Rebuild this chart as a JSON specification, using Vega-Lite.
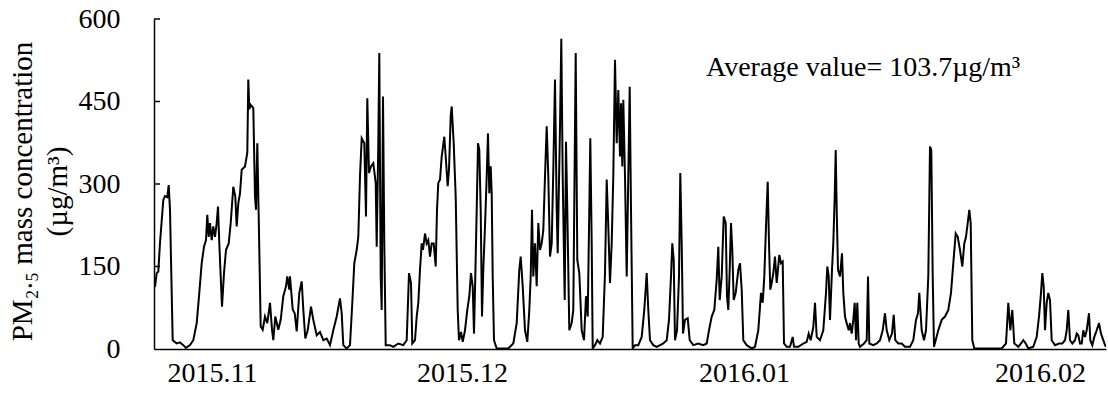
{
  "$schema": "https://vega.github.io/schema/vega-lite/v6.json",
  "width": 952,
  "height": 330,
  "autosize": "none",
  "padding": {"left": 154, "top": 19, "right": 2, "bottom": 45},
  "background": "white",
  "config": {"view": {"stroke": null}, "font": "Liberation Serif"},
  "layer": [
    {
      "data": {"values": [
        {"t":1.0,"v":113},{"t":2.7,"v":138},{"t":4.3,"v":141},{"t":6.0,"v":193},{"t":9.3,"v":271},{"t":11.0,"v":278},{"t":13.3,"v":276},{"t":14.7,"v":298},{"t":16.0,"v":253},{"t":17.7,"v":102},{"t":18.7,"v":16},{"t":22.7,"v":10},{"t":26.0,"v":12},{"t":29.3,"v":7},{"t":32.0,"v":2},{"t":36.0,"v":7},{"t":39.3,"v":16},{"t":42.7,"v":47},{"t":45.3,"v":102},{"t":47.7,"v":156},{"t":50.0,"v":186},{"t":52.0,"v":198},{"t":53.3,"v":244},{"t":54.7,"v":204},{"t":56.0,"v":229},{"t":57.7,"v":198},{"t":59.3,"v":223},{"t":61.0,"v":204},{"t":62.7,"v":229},{"t":64.0,"v":259},{"t":65.3,"v":192},{"t":66.7,"v":132},{"t":68.0,"v":77},{"t":70.0,"v":138},{"t":72.0,"v":180},{"t":74.7,"v":192},{"t":76.7,"v":229},{"t":79.3,"v":295},{"t":81.3,"v":277},{"t":82.7,"v":223},{"t":84.3,"v":265},{"t":86.0,"v":283},{"t":87.7,"v":326},{"t":91.0,"v":332},{"t":93.3,"v":357},{"t":94.3,"v":490},{"t":95.3,"v":436},{"t":96.7,"v":444},{"t":99.3,"v":438},{"t":101.0,"v":277},{"t":102.0,"v":253},{"t":103.3,"v":374},{"t":104.7,"v":241},{"t":106.7,"v":41},{"t":108.7,"v":35},{"t":111.0,"v":59},{"t":113.3,"v":47},{"t":116.0,"v":84},{"t":118.0,"v":35},{"t":119.3,"v":16},{"t":121.3,"v":59},{"t":124.3,"v":35},{"t":126.7,"v":53},{"t":129.3,"v":96},{"t":132.0,"v":114},{"t":133.3,"v":132},{"t":135.3,"v":108},{"t":136.0,"v":132},{"t":138.7,"v":72},{"t":140.7,"v":65},{"t":142.7,"v":32},{"t":145.3,"v":102},{"t":147.7,"v":123},{"t":149.3,"v":72},{"t":151.3,"v":19},
        {"t":153.7,"v":34},{"t":157.0,"v":77},{"t":159.3,"v":53},{"t":162.7,"v":25},{"t":166.0,"v":31},{"t":169.3,"v":16},{"t":172.7,"v":19},{"t":176.0,"v":7},{"t":179.3,"v":34},{"t":182.7,"v":59},{"t":186.0,"v":92},{"t":187.7,"v":65},{"t":189.3,"v":7},{"t":192.7,"v":1},{"t":196.0,"v":7},{"t":198.3,"v":84},{"t":200.3,"v":156},{"t":202.7,"v":180},{"t":204.3,"v":204},{"t":206.0,"v":314},{"t":207.7,"v":383},{"t":210.3,"v":374},{"t":212.0,"v":241},{"t":213.3,"v":456},{"t":215.0,"v":320},{"t":217.0,"v":332},{"t":219.3,"v":338},{"t":221.7,"v":302},{"t":222.7,"v":186},{"t":224.3,"v":374},{"t":225.3,"v":538},{"t":226.7,"v":132},{"t":227.7,"v":71},{"t":229.0,"v":459},{"t":230.3,"v":192},{"t":231.7,"v":7},{"t":236.0,"v":7},{"t":239.3,"v":4},{"t":244.3,"v":10},{"t":249.3,"v":7},{"t":252.7,"v":16},{"t":255.0,"v":138},{"t":257.0,"v":120},{"t":258.3,"v":10},{"t":261.0,"v":16},{"t":262.7,"v":59},{"t":264.3,"v":84},{"t":266.0,"v":144},{"t":267.7,"v":192},{"t":269.0,"v":180},{"t":271.0,"v":210},{"t":272.7,"v":192},{"t":274.3,"v":198},{"t":276.0,"v":168},{"t":277.7,"v":192},{"t":279.7,"v":192},{"t":281.7,"v":150},{"t":283.0,"v":253},{"t":284.3,"v":302},{"t":286.0,"v":308},{"t":287.7,"v":350},{"t":290.3,"v":386},{"t":291.7,"v":350},{"t":293.7,"v":296},{"t":295.0,"v":326},{"t":296.7,"v":423},{"t":297.7,"v":441},{"t":299.7,"v":374},{"t":301.7,"v":277},{"t":303.7,"v":71},{"t":305.0,"v":16},{"t":307.0,"v":31},
        {"t":308.7,"v":13},{"t":311.0,"v":34},{"t":313.3,"v":71},{"t":315.3,"v":96},{"t":317.0,"v":138},{"t":318.7,"v":114},{"t":320.0,"v":28},{"t":321.3,"v":132},{"t":322.7,"v":253},{"t":324.0,"v":374},{"t":325.3,"v":362},{"t":326.7,"v":253},{"t":328.0,"v":59},{"t":329.3,"v":144},{"t":331.0,"v":223},{"t":332.7,"v":314},{"t":334.0,"v":392},{"t":335.3,"v":283},{"t":336.7,"v":332},{"t":337.7,"v":283},{"t":338.7,"v":132},{"t":340.0,"v":16},{"t":342.7,"v":1},{"t":347.7,"v":1},{"t":354.3,"v":1},{"t":359.3,"v":10},{"t":362.7,"v":47},{"t":365.3,"v":144},{"t":366.7,"v":168},{"t":368.7,"v":114},{"t":371.0,"v":34},{"t":373.3,"v":13},{"t":375.3,"v":71},{"t":376.7,"v":132},{"t":378.0,"v":253},{"t":379.3,"v":132},{"t":381.0,"v":192},{"t":382.7,"v":114},{"t":384.3,"v":229},{"t":386.0,"v":180},{"t":387.7,"v":192},{"t":389.3,"v":216},{"t":391.0,"v":314},{"t":392.7,"v":405},{"t":394.3,"v":314},{"t":396.0,"v":168},{"t":397.7,"v":192},{"t":399.3,"v":326},{"t":401.0,"v":490},{"t":402.7,"v":253},{"t":403.7,"v":174},{"t":406.0,"v":405},{"t":407.3,"v":564},{"t":408.7,"v":314},{"t":410.7,"v":89},{"t":412.0,"v":377},{"t":413.3,"v":253},{"t":415.3,"v":34},{"t":417.7,"v":47},{"t":419.3,"v":71},{"t":421.7,"v":538},{"t":423.3,"v":162},{"t":425.3,"v":138},{"t":427.7,"v":34},{"t":430.0,"v":16},{"t":432.0,"v":96},{"t":433.7,"v":59},{"t":435.3,"v":253},{"t":436.3,"v":383},{"t":437.7,"v":192},{"t":438.7,"v":1},{"t":441.0,"v":7},{"t":443.3,"v":16},{"t":446.0,"v":10},{"t":448.7,"v":22},{"t":451.0,"v":138},{"t":452.7,"v":308},{"t":454.3,"v":223},{"t":456.0,"v":120},{"t":457.7,"v":192},{"t":459.3,"v":314},{"t":461.0,"v":526},
        {"t":462.7,"v":374},{"t":464.3,"v":471},{"t":466.0,"v":350},{"t":467.0,"v":447},{"t":468.3,"v":332},{"t":469.3,"v":453},{"t":471.0,"v":314},{"t":472.7,"v":132},{"t":474.3,"v":314},{"t":475.7,"v":477},{"t":477.0,"v":253},{"t":478.7,"v":1},{"t":481.0,"v":7},{"t":484.3,"v":7},{"t":487.7,"v":22},{"t":490.3,"v":71},{"t":492.7,"v":138},{"t":494.3,"v":71},{"t":496.0,"v":16},{"t":499.3,"v":7},{"t":502.7,"v":4},{"t":506.0,"v":7},{"t":509.3,"v":10},{"t":512.7,"v":16},{"t":515.0,"v":53},{"t":517.0,"v":132},{"t":518.3,"v":192},{"t":519.7,"v":162},{"t":521.0,"v":16},{"t":523.0,"v":34},{"t":525.0,"v":132},{"t":526.3,"v":320},{"t":527.7,"v":192},{"t":529.0,"v":28},{"t":531.0,"v":53},{"t":533.7,"v":56},{"t":535.7,"v":16},{"t":539.3,"v":7},{"t":544.3,"v":10},{"t":549.3,"v":7},{"t":552.7,"v":10},{"t":555.0,"v":34},{"t":557.7,"v":59},{"t":560.3,"v":71},{"t":562.7,"v":126},{"t":564.3,"v":186},{"t":565.7,"v":89},{"t":567.7,"v":132},{"t":569.7,"v":241},{"t":571.7,"v":229},{"t":573.0,"v":96},{"t":574.3,"v":71},{"t":575.7,"v":144},{"t":577.0,"v":229},{"t":578.3,"v":180},{"t":579.7,"v":89},{"t":581.7,"v":102},{"t":584.3,"v":144},{"t":586.0,"v":156},{"t":587.7,"v":108},{"t":589.3,"v":16},{"t":592.7,"v":7},{"t":597.7,"v":1},{"t":601.0,"v":4},{"t":604.3,"v":34},{"t":607.0,"v":102},{"t":608.7,"v":84},{"t":610.3,"v":132},{"t":612.0,"v":223},{"t":613.7,"v":304},{"t":615.0,"v":192},{"t":616.3,"v":108},
        {"t":617.7,"v":120},{"t":619.3,"v":138},{"t":621.0,"v":168},{"t":622.7,"v":120},{"t":625.3,"v":171},{"t":627.0,"v":156},{"t":628.7,"v":159},{"t":630.0,"v":10},{"t":632.7,"v":4},{"t":636.0,"v":4},{"t":638.7,"v":22},{"t":640.0,"v":4},{"t":644.3,"v":4},{"t":649.3,"v":10},{"t":652.7,"v":13},{"t":654.7,"v":28},{"t":656.7,"v":16},{"t":659.3,"v":40},{"t":661.0,"v":84},{"t":662.7,"v":22},{"t":666.0,"v":16},{"t":669.3,"v":34},{"t":672.0,"v":102},{"t":673.3,"v":150},{"t":674.7,"v":132},{"t":676.0,"v":53},{"t":678.0,"v":144},{"t":679.3,"v":192},{"t":680.7,"v":277},{"t":681.7,"v":362},{"t":682.7,"v":253},{"t":684.0,"v":144},{"t":686.0,"v":132},{"t":688.0,"v":174},{"t":689.3,"v":102},{"t":691.0,"v":59},{"t":692.7,"v":47},{"t":694.7,"v":34},{"t":696.0,"v":47},{"t":697.7,"v":28},{"t":699.3,"v":53},{"t":700.7,"v":84},{"t":702.0,"v":16},{"t":703.3,"v":84},{"t":704.7,"v":10},{"t":706.0,"v":4},{"t":710.0,"v":10},{"t":712.7,"v":16},{"t":714.0,"v":132},{"t":715.3,"v":10},{"t":719.3,"v":7},{"t":722.7,"v":10},{"t":726.0,"v":16},{"t":728.7,"v":34},{"t":731.0,"v":65},{"t":732.7,"v":34},{"t":735.3,"v":16},{"t":738.0,"v":28},{"t":739.7,"v":62},{"t":741.3,"v":16},{"t":744.3,"v":10},{"t":747.7,"v":10},{"t":751.0,"v":4},{"t":756.0,"v":4},{"t":759.3,"v":16},{"t":762.0,"v":53},{"t":764.0,"v":65},{"t":765.3,"v":102},{"t":767.7,"v":34},{"t":770.0,"v":16},{"t":772.0,"v":34},{"t":774.3,"v":132},{"t":776.0,"v":368},{"t":777.3,"v":362},{"t":778.7,"v":132},{"t":780.0,"v":4},
        {"t":784.3,"v":34},{"t":787.7,"v":53},{"t":791.0,"v":59},{"t":794.3,"v":71},{"t":797.0,"v":102},{"t":799.3,"v":156},{"t":801.7,"v":210},{"t":803.7,"v":204},{"t":806.0,"v":180},{"t":808.3,"v":150},{"t":810.3,"v":192},{"t":812.0,"v":204},{"t":813.3,"v":223},{"t":815.3,"v":253},{"t":816.7,"v":229},{"t":818.3,"v":16},{"t":820.3,"v":1},{"t":827.7,"v":1},{"t":837.7,"v":1},{"t":847.7,"v":1},{"t":852.0,"v":10},{"t":854.3,"v":84},{"t":856.3,"v":34},{"t":858.3,"v":71},{"t":860.3,"v":10},{"t":864.3,"v":4},{"t":867.0,"v":10},{"t":869.3,"v":16},{"t":871.7,"v":10},{"t":874.3,"v":1},{"t":879.3,"v":4},{"t":882.7,"v":22},{"t":885.0,"v":59},{"t":887.0,"v":102},{"t":888.3,"v":138},{"t":889.7,"v":114},{"t":891.0,"v":34},{"t":892.7,"v":84},{"t":894.3,"v":102},{"t":896.0,"v":89},{"t":897.7,"v":16},{"t":901.0,"v":7},{"t":905.0,"v":10},{"t":908.3,"v":10},{"t":911.0,"v":16},{"t":912.7,"v":34},{"t":914.3,"v":71},{"t":916.0,"v":16},{"t":918.3,"v":10},{"t":921.0,"v":16},{"t":922.7,"v":28},{"t":924.3,"v":25},{"t":926.0,"v":10},{"t":927.7,"v":10},{"t":929.3,"v":34},{"t":931.0,"v":22},{"t":932.7,"v":34},{"t":935.0,"v":65},{"t":936.3,"v":16},{"t":938.3,"v":7},{"t":940.3,"v":22},{"t":942.7,"v":34},{"t":945.0,"v":47},{"t":947.0,"v":28},{"t":949.3,"v":16},{"t":951.0,"v":7},{"t":952.0,"v":4}
      ]},
      "mark": {"type": "line", "color": "black", "strokeWidth": 2, "clip": true},
      "encoding": {
        "x": {
          "field": "t", "type": "quantitative",
          "scale": {"domain": [0, 952], "nice": false, "zero": false},
          "axis": {
            "values": [58, 308, 590, 886],
            "labelExpr": "datum.value == 58 ? '2015.11' : datum.value == 308 ? '2015.12' : datum.value == 590 ? '2016.01' : '2016.02'",
            "title": null, "grid": false, "ticks": false,
            "labelFont": "Liberation Serif", "labelFontSize": 28, "labelColor": "black",
            "labelPadding": 10, "labelFlush": false, "labelOverlap": false,
            "domainColor": "black", "domainWidth": 1.5
          }
        },
        "y": {
          "field": "v", "type": "quantitative",
          "scale": {"domain": [0, 600], "nice": false},
          "axis": {
            "values": [0, 150, 300, 450, 600],
            "title": ["PM₂.₅ mass concentration", "(µg/m³)"],
            "titleFont": "Liberation Serif", "titleFontSize": 29, "titleFontWeight": "normal", "titleColor": "black",
            "titleLineHeight": 35, "titleBaseline": "middle", "titleAlign": "center", "titleAngle": -90,
            "titleX": -132, "titleY": 172,
            "grid": false, "ticks": false,
            "labelFont": "Liberation Serif", "labelFontSize": 28, "labelColor": "black",
            "labelPadding": 34, "labelFlush": false, "labelOverlap": false,
            "domainColor": "black", "domainWidth": 1.5
          }
        }
      }
    },
    {
      "data": {"values": [{"v": 150}, {"v": 300}, {"v": 450}, {"v": 600}]},
      "mark": {"type": "rule", "color": "black", "strokeWidth": 1.5},
      "encoding": {
        "y": {"field": "v", "type": "quantitative"},
        "x": {"datum": 0},
        "x2": {"datum": 6}
      }
    },
    {
      "data": {"values": [{"t": 552, "v": 497, "label": "Average value= 103.7µg/m³"}]},
      "mark": {"type": "text", "align": "left", "baseline": "alphabetic", "font": "Liberation Serif", "fontSize": 28, "color": "black"},
      "encoding": {
        "x": {"field": "t", "type": "quantitative"},
        "y": {"field": "v", "type": "quantitative"},
        "text": {"field": "label"}
      }
    }
  ]
}
